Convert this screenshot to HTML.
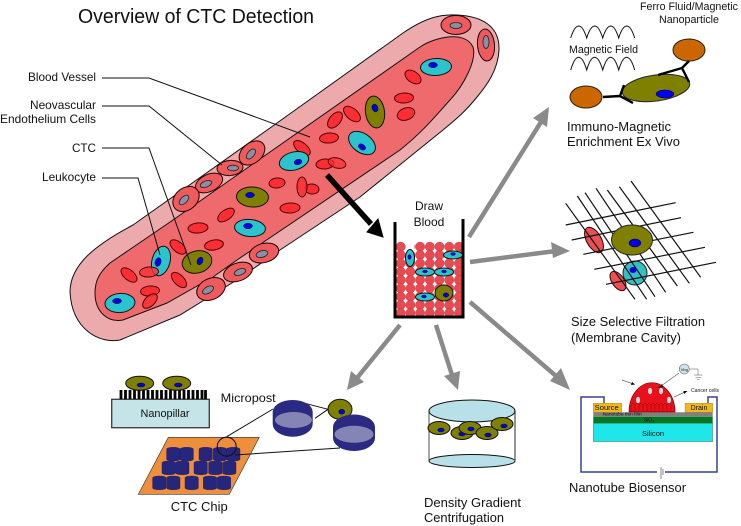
<!DOCTYPE html>
<html><head><meta charset="utf-8"><title>Overview of CTC Detection</title>
<style>
html,body{margin:0;padding:0;background:#fff;width:741px;height:526px;overflow:hidden}
svg{display:block;filter:blur(.3px)}
text{font-family:"Liberation Sans",sans-serif;fill:#111}
.r{fill:#fb2f33;stroke:#500;stroke-width:1}
.e{fill:#ef5a5c;stroke:#200;stroke-width:1}
.g{fill:#8c8ea6;stroke:#222;stroke-width:.8}
.t{fill:#2cc4cc;stroke:#111;stroke-width:1}
.o{fill:#808000;stroke:#111;stroke-width:1}
.n{fill:#0000d8;stroke:#002;stroke-width:.4}
.w{stroke:#8a8a8a;stroke-width:4.5;fill:none}
.h{fill:#8a8a8a}
.l{stroke:#111;stroke-width:1;fill:none}
</style></head><body>
<svg width="741" height="526" viewBox="0 0 741 526" xmlns="http://www.w3.org/2000/svg">
<defs>
<g id="bal"><circle cx="0" r="4.7"/><circle cx="9.7" r="4.7"/><circle cx="19.4" r="4.7"/><circle cx="29.1" r="4.7"/><circle cx="38.8" r="4.7"/><circle cx="48.5" r="4.7"/><circle cx="58.2" r="4.7"/></g>
<g id="cy"><path d="M-6.7,1.8 A6.7,1.8 0 0 1 6.7,1.8 V12 A6.7,1.8 0 0 1 -6.7,12 Z" fill="#26267c" stroke="#1c1c60" stroke-width=".4"/></g>
</defs>
<rect width="741" height="526" fill="#fff"/>

<text x="78" y="23" font-size="20" textLength="236" lengthAdjust="spacingAndGlyphs">Overview of CTC Detection</text>

<!-- vessel -->
<path d="M70,292 C70,265 95,245 133,225 L270,128 L403,33 C425,18 440,14 457,15 C480,16 500,25 499,50 C498,70 487,85 477,97 C465,112 455,120 443,130 L360,197 L280,250 L240,278 L180,315 L120,340 C100,344 72,330 70,292 Z" fill="#edaaac" stroke="#111" stroke-width="1"/>
<path d="M95,293 C95,280 100,272 110,263 L173,220 L270,152 L420,47 C435,37 465,30 473,47 C477,60 464,85 450,100 C438,113 425,130 400,150 L237,260 L213,277 L167,303 L123,320 C108,323 95,312 95,293 Z" fill="#ee6a6c" stroke="#111" stroke-width="1"/>

<!-- endothelial -->
<ellipse class="e" cx="456" cy="25" rx="15" ry="9.5"/><ellipse class="g" cx="456" cy="25.5" rx="6" ry="3"/>
<ellipse class="e" cx="486" cy="45" rx="8.5" ry="16" transform="rotate(-5,486,45)"/><ellipse class="g" cx="486" cy="42" rx="3" ry="6.5"/>
<ellipse class="e" cx="252" cy="153" rx="14.5" ry="10" transform="rotate(-40,252,153)"/><ellipse class="g" cx="251" cy="154" rx="6" ry="3.3" transform="rotate(-50,251,154)"/>
<ellipse class="e" cx="230" cy="168" rx="13" ry="7.5" transform="rotate(-5,230,168)"/><ellipse class="g" cx="233" cy="168" rx="5.5" ry="2.8"/>
<ellipse class="e" cx="209" cy="183" rx="14.5" ry="8.5" transform="rotate(-25,209,183)"/><ellipse class="g" cx="206" cy="184" rx="6" ry="3" transform="rotate(-20,206,184)"/>
<ellipse class="e" cx="186" cy="199" rx="14.5" ry="11" transform="rotate(-40,186,199)"/><ellipse class="g" cx="184" cy="200" rx="6" ry="3.3" transform="rotate(-45,184,200)"/>
<ellipse class="e" cx="264" cy="253" rx="15" ry="9.5" transform="rotate(-15,264,253)"/><ellipse class="g" cx="262" cy="254" rx="6" ry="3.3" transform="rotate(-15,262,254)"/>
<ellipse class="e" cx="238" cy="272" rx="15" ry="9" transform="rotate(-20,238,272)"/><ellipse class="g" cx="240" cy="272" rx="6" ry="3" transform="rotate(-20,240,272)"/>
<ellipse class="e" cx="211" cy="289" rx="15" ry="10.5" transform="rotate(-25,211,289)"/><ellipse class="g" cx="208" cy="290" rx="6" ry="3.3" transform="rotate(-30,208,290)"/>

<!-- rbc -->
<ellipse class="r" cx="413" cy="77" rx="9" ry="5.5" transform="rotate(35,413,77)"/>
<ellipse class="r" cx="404" cy="98" rx="9.5" ry="5" transform="rotate(-3,404,98)"/>
<ellipse class="r" cx="406" cy="114" rx="9" ry="6" transform="rotate(-20,406,114)"/>
<ellipse class="r" cx="352" cy="114" rx="10" ry="5.5" transform="rotate(40,352,114)"/>
<ellipse class="r" cx="335" cy="120" rx="9.5" ry="5.5" transform="rotate(-50,335,120)"/>
<ellipse class="r" cx="329" cy="138" rx="9.5" ry="5" transform="rotate(-5,329,138)"/>
<ellipse class="r" cx="302" cy="148" rx="10" ry="5" transform="rotate(40,302,148)"/>
<ellipse class="r" cx="325" cy="164" rx="9" ry="5" transform="rotate(-5,325,164)"/>
<ellipse class="r" cx="337" cy="163" rx="9" ry="5" transform="rotate(15,337,163)" fill-opacity=".7"/>
<ellipse class="r" cx="312" cy="189" rx="7" ry="5" transform="rotate(5,312,189)"/>
<ellipse class="r" cx="302" cy="187" rx="5" ry="10" fill-opacity=".85"/>
<ellipse class="r" cx="277" cy="183" rx="8" ry="5" transform="rotate(-5,277,183)"/>
<ellipse class="r" cx="290" cy="208" rx="10" ry="5" transform="rotate(-3,290,208)"/>
<ellipse class="r" cx="226" cy="215" rx="9.5" ry="5" transform="rotate(-35,226,215)"/>
<ellipse class="r" cx="198" cy="228" rx="10" ry="5" transform="rotate(-5,198,228)"/>
<ellipse class="r" cx="214" cy="245" rx="9.5" ry="5" transform="rotate(-10,214,245)"/>
<ellipse class="r" cx="178" cy="247" rx="9.5" ry="5" transform="rotate(40,178,247)"/>
<ellipse class="r" cx="179" cy="280" rx="9.5" ry="5" transform="rotate(45,179,280)"/>
<ellipse class="r" cx="129" cy="275" rx="9.5" ry="5" transform="rotate(40,129,275)"/>
<ellipse class="r" cx="150" cy="291" rx="9.5" ry="5" transform="rotate(-5,150,291)"/>
<ellipse class="r" cx="150" cy="301" rx="9" ry="5" transform="rotate(-45,150,301)" fill-opacity=".85"/>

<!-- ctc & leukocyte -->
<ellipse class="t" cx="120" cy="303" rx="15" ry="9.5" transform="rotate(-5,120,303)"/><ellipse class="n" cx="117" cy="301" rx="4.5" ry="2.7"/>
<ellipse class="t" cx="161" cy="261" rx="9" ry="15" transform="rotate(15,161,261)"/><ellipse class="n" cx="158" cy="262" rx="3" ry="4.5" transform="rotate(15,158,262)"/>
<ellipse class="t" cx="250" cy="228" rx="15.5" ry="8.5" transform="rotate(5,250,228)"/><ellipse class="n" cx="248" cy="226" rx="4.5" ry="2.8"/>
<ellipse class="t" cx="436" cy="67" rx="15.5" ry="8.5" transform="rotate(-3,436,67)"/><ellipse class="n" cx="433" cy="65" rx="4.5" ry="2.7"/>
<ellipse class="t" cx="362" cy="143" rx="15" ry="9.5" transform="rotate(35,362,143)"/><ellipse class="n" cx="362" cy="147" rx="4" ry="2.7" transform="rotate(35,362,147)"/>
<ellipse class="t" cx="294" cy="161" rx="15" ry="9" transform="rotate(-15,294,161)"/><ellipse class="n" cx="298" cy="162" rx="4" ry="2.7" transform="rotate(-15,298,162)"/>
<ellipse class="r" cx="149" cy="272" rx="9.5" ry="5" transform="rotate(-5,149,272)" fill-opacity=".75"/>
<ellipse class="o" cx="197" cy="262" rx="15" ry="11" transform="rotate(-15,197,262)"/><ellipse class="n" cx="200" cy="261" rx="2.8" ry="4" transform="rotate(25,200,261)"/>
<ellipse class="o" cx="252.5" cy="197" rx="16" ry="10" transform="rotate(3,252,197)"/><ellipse class="n" cx="250" cy="195" rx="4.5" ry="2.7"/>
<ellipse class="o" cx="375" cy="112" rx="9.5" ry="16" transform="rotate(-8,375,112)"/><ellipse class="n" cx="375" cy="108" rx="3" ry="4" transform="rotate(-20,375,108)"/>

<!-- left labels -->
<text x="96" y="81" font-size="12" text-anchor="end" fill="#222" textLength="68" lengthAdjust="spacingAndGlyphs">Blood Vessel</text>
<text x="96" y="109" font-size="12" text-anchor="end" textLength="66" lengthAdjust="spacingAndGlyphs">Neovascular</text>
<text x="96" y="123" font-size="12" text-anchor="end" textLength="96" lengthAdjust="spacingAndGlyphs">Endothelium Cells</text>
<text x="96" y="152" font-size="12" text-anchor="end" textLength="24" lengthAdjust="spacingAndGlyphs">CTC</text>
<text x="96" y="181" font-size="12" text-anchor="end" textLength="54" lengthAdjust="spacingAndGlyphs">Leukocyte</text>
<path class="l" d="M102,78 H149 L310,137"/>
<path class="l" d="M102,106 H149 L222,165"/>
<path class="l" d="M102,148 H149 L191,265"/>
<path class="l" d="M102,178 H138 L160,255"/>

<!-- black arrow -->
<path d="M327,175 L371,224" stroke="#000" stroke-width="5.5" fill="none"/>
<path d="M383,237 L367,232 L378,219 Z" fill="#000" stroke="#000"/>

<!-- gray arrows -->
<path class="w" d="M469,237 L541,122"/><path class="h" d="M549,107 L547,127 L533,118 Z"/>
<path class="w" d="M470,262 L556,251"/><path class="h" d="M570,251 L553,258 L551,242 Z"/>
<path class="w" d="M470,302 L556,376"/><path class="h" d="M570,390 L550,381 L561,368 Z"/>
<path class="w" d="M400,325 L357,378"/><path class="h" d="M347,390 L351,371 L364,382 Z"/>
<path class="w" d="M436,325 L452,375"/><path class="h" d="M458,390 L444,376 L460,371 Z"/>

<!-- beaker -->
<g fill="#e84a52" stroke="#b02a30" stroke-width=".3">
<use href="#bal" x="400.7" y="246.7"/><use href="#bal" x="400.7" y="255"/><use href="#bal" x="400.7" y="263.3"/><use href="#bal" x="400.7" y="271.7"/><use href="#bal" x="400.7" y="280"/><use href="#bal" x="400.7" y="288.3"/><use href="#bal" x="400.7" y="296.7"/><use href="#bal" x="400.7" y="305"/><use href="#bal" x="400.7" y="313"/>
</g>
<rect x="405.5" y="241" width="9" height="11" fill="#fff"/>
<path d="M395,222 V317 H463 V219" fill="none" stroke="#000" stroke-width="3"/>
<ellipse class="t" cx="410" cy="258" rx="4.5" ry="8.5" stroke-width=".7"/><ellipse class="n" cx="409.5" cy="257" rx="1.6" ry="2.4"/>
<ellipse class="t" cx="453" cy="255" rx="9.5" ry="4" stroke-width=".7"/><ellipse class="n" cx="453" cy="254" rx="2.4" ry="1.4"/>
<ellipse class="t" cx="425" cy="272" rx="9.5" ry="4" stroke-width=".7"/><ellipse class="n" cx="425" cy="271.5" rx="2.4" ry="1.4"/>
<ellipse class="t" cx="444" cy="272" rx="9.5" ry="4" stroke-width=".7"/><ellipse class="n" cx="444" cy="271.5" rx="2.4" ry="1.4"/>
<ellipse class="t" cx="425" cy="297" rx="9.5" ry="4" stroke-width=".7"/><ellipse class="n" cx="424" cy="296.5" rx="2.4" ry="1.4"/>
<ellipse class="o" cx="444" cy="293" rx="9" ry="8"/><ellipse class="n" cx="446" cy="295" rx="2.8" ry="2.2"/>
<text x="429" y="210" font-size="12" text-anchor="middle">Draw</text>
<text x="429" y="226" font-size="12" text-anchor="middle">Blood</text>

<!-- magnetic -->
<text x="689" y="10" font-size="11" text-anchor="middle" textLength="98" lengthAdjust="spacingAndGlyphs">Ferro Fluid/Magnetic</text>
<text x="689" y="23" font-size="11" text-anchor="middle" textLength="60" lengthAdjust="spacingAndGlyphs">Nanoparticle</text>
<text x="569" y="53" font-size="11" textLength="69" lengthAdjust="spacingAndGlyphs">Magnetic Field</text>
<path class="l" d="M570.7,38 c5,-16 11,-16 16,0 c5,-16 11,-16 16,0 c5,-16 11,-16 16,0 c5,-16 11,-16 16,0"/>
<path class="l" d="M570.7,70 c5,-17 11,-17 16,0 c5,-17 11,-17 16,0 c5,-17 11,-17 16,0 c5,-17 11,-17 16,0"/>
<ellipse cx="656" cy="88" rx="34" ry="13" transform="rotate(-8,656,88)" fill="#808000" stroke="#222"/>
<ellipse cx="665" cy="94" rx="9" ry="4" fill="#0000f0" stroke="#002" stroke-width=".5"/>
<ellipse cx="689" cy="50" rx="16" ry="11" fill="#cc6600" stroke="#221"/>
<ellipse cx="586" cy="97" rx="16" ry="11" fill="#cc6600" stroke="#221"/>
<path d="M603,97 L620,96 M624,85 L620,96 L633,103 M689,61 L682,68 M658,75 L682,68 L689,82" stroke="#000" stroke-width="2.4" fill="none"/>
<text x="567" y="131" font-size="13" textLength="104" lengthAdjust="spacingAndGlyphs">Immuno-Magnetic</text>
<text x="567" y="146" font-size="13" textLength="113" lengthAdjust="spacingAndGlyphs">Enrichment Ex Vivo</text>

<!-- filter -->
<ellipse cx="594" cy="240" rx="14" ry="7.3" transform="rotate(60,594,240)" fill="#e85054" stroke="#300"/>
<ellipse cx="618" cy="281" rx="11" ry="6" transform="rotate(55,618,281)" fill="#e85054" stroke="#300"/>
<circle cx="635" cy="273" r="12" fill="#33bfc4" stroke="#222"/>
<ellipse cx="633" cy="270" rx="3.5" ry="3" fill="#0000d8"/>
<g transform="translate(550,170) scale(.33333)" stroke="#111" stroke-width="3.6" fill="none">
<path d="M47,100L255,388M82,78L290,388M105,68L315,380M138,55L347,367M172,60L382,348M208,50L418,340M243,33L452,322"/>
<path d="M47,165L377,98M65,210L393,143M100,253L430,187M133,298L465,232M168,343L498,277"/>
</g>
<ellipse cx="632" cy="240" rx="20.5" ry="15" fill="#808000" stroke="#222"/>
<ellipse cx="635" cy="243" rx="6" ry="4" fill="#0000e0" stroke="#002" stroke-width=".5"/>
<text x="571" y="326" font-size="13" textLength="134" lengthAdjust="spacingAndGlyphs">Size Selective Filtration</text>
<text x="571" y="342" font-size="13" textLength="110" lengthAdjust="spacingAndGlyphs">(Membrane Cavity)</text>

<!-- biosensor -->
<path d="M604,403 V397 H581 V472 H717 V397 H708 V403" fill="none" stroke="#334499" stroke-width="1.5"/>
<rect x="657" y="468" width="8" height="8" fill="#fff"/>
<path d="M661,467 V479 M663,469 V475" stroke="#888" stroke-width="1" fill="none"/>
<rect x="593.3" y="423.3" width="119.4" height="18.4" fill="#1fe6e8" stroke="#888" stroke-width=".6"/>
<rect x="593.3" y="416.7" width="119.4" height="6.6" fill="#007a20"/>
<rect x="593.3" y="412.3" width="119.4" height="4.4" fill="#808080"/>
<rect x="593.3" y="403.3" width="28.4" height="9" fill="#f0b820" stroke="#a08020" stroke-width=".4"/>
<rect x="685" y="403.3" width="27.7" height="9" fill="#f0b820" stroke="#a08020" stroke-width=".4"/>
<path d="M629,412 C629,395 640,382.7 652,382.7 C664,382.7 675,395 675,412 Z" fill="#e8101a" stroke="#800" stroke-width=".7"/>
<path d="M631,412V405M635,412V405M639,412V405M643,412V405M647,412V405M651,412V405M655,412V405M659,412V405M663,412V405M667,412V405M671,412V405M631,405Q633,402 635,405Q637,402 639,405Q641,402 643,405Q645,402 647,405Q649,402 651,405Q653,402 655,405Q657,402 659,405Q661,402 663,405Q665,402 667,405Q669,402 671,405" stroke="#900" stroke-width=".5" fill="none"/>
<g fill="#ddd"><ellipse cx="650" cy="391" rx="2" ry="3.3"/><ellipse cx="661" cy="391" rx="2" ry="3.3"/><ellipse cx="638" cy="400" rx="2" ry="3.3"/><ellipse cx="669" cy="400" rx="2" ry="3.3"/></g>
<text x="606.7" y="410" font-size="7" text-anchor="middle" textLength="24" lengthAdjust="spacingAndGlyphs">Source</text>
<text x="699" y="410" font-size="7" text-anchor="middle">Drain</text>
<text x="602.7" y="415.6" font-size="4.5" fill="#333" textLength="39" lengthAdjust="spacingAndGlyphs">Nanotube thin film</text>
<text x="649" y="421.5" font-size="5" text-anchor="middle">SiO<tspan font-size="3.5" dy="1">2</tspan></text>
<text x="653" y="436" font-size="7.5" text-anchor="middle" fill="#225">Silicon</text>
<path d="M679,373 L661,386" stroke="#555" stroke-width=".6" fill="none"/><path d="M658,388 L662,384 L663,387 Z" fill="#000"/>
<circle cx="684.3" cy="369" r="5" fill="#cfe2e8" stroke="#668" stroke-width=".6"/>
<text x="684.3" y="371" font-size="4" text-anchor="middle">Vbg</text>
<path d="M689,369 H698 V375 M694,375 H702.5 M695.5,377.3 H701 M697,379.3 H699.5" stroke="#555" stroke-width=".5" fill="none"/>
<path d="M622,380 L632,383.5 M674,397 L685,392" stroke="#333" stroke-width=".6" fill="none"/>
<path d="M635,384.5 L631,385 L632,382 Z M687.5,391 L684,394 L683.5,391 Z" fill="#000"/>
<text x="691" y="392" font-size="5" fill="#444" textLength="28" lengthAdjust="spacingAndGlyphs">Cancer cells</text>
<text x="569" y="492" font-size="13" textLength="117" lengthAdjust="spacingAndGlyphs">Nanotube Biosensor</text>

<!-- density -->
<ellipse cx="472" cy="461" rx="43" ry="6.5" fill="#b8e0e8" stroke="#111"/>
<path d="M429,411 V461" stroke="#222" stroke-width=".8"/><path d="M515,411 V461" stroke="#666" stroke-width="1.4"/>
<ellipse cx="472" cy="411" rx="43" ry="11" fill="#b8e0e8" stroke="#111"/>
<ellipse class="o" cx="439" cy="428" rx="11" ry="6.5"/><ellipse class="n" cx="441" cy="430" rx="3.3" ry="2"/>
<ellipse class="o" cx="462" cy="433" rx="11" ry="6.5"/><ellipse class="n" cx="462" cy="434" rx="3.3" ry="2"/>
<ellipse class="o" cx="470" cy="428" rx="11" ry="6.5"/><ellipse class="n" cx="471" cy="429" rx="3.3" ry="2"/>
<ellipse class="o" cx="487" cy="433" rx="11" ry="6.5"/><ellipse class="n" cx="488" cy="435" rx="3.3" ry="2"/>
<ellipse class="o" cx="502" cy="424" rx="11" ry="6.5"/><ellipse class="n" cx="504" cy="426" rx="3.3" ry="2"/>
<text x="424" y="507" font-size="13" textLength="97" lengthAdjust="spacingAndGlyphs">Density Gradient</text>
<text x="424" y="522" font-size="13" textLength="80" lengthAdjust="spacingAndGlyphs">Centrifugation</text>

<!-- nanopillar -->
<rect x="111.7" y="399.3" width="97.6" height="28.4" fill="#c4e4e8" stroke="#444" stroke-width="1.4"/>
<path d="M121,390V399M125.5,390V399M130,390V399M134.5,390V399M139,390V399M143.5,390V399M148,390V399M152.5,390V399M157,390V399M161.5,390V399M166,390V399M170.5,390V399M175,390V399M179.5,390V399M184,390V399M188.5,390V399M193,390V399M197.5,390V399M202,390V399M205.5,390V399" stroke="#000" stroke-width="2.8"/>
<ellipse class="o" cx="139.7" cy="383.3" rx="14" ry="7"/><ellipse class="n" cx="141" cy="385" rx="4" ry="2"/>
<ellipse class="o" cx="176.7" cy="383.3" rx="14" ry="7"/><ellipse class="n" cx="178.3" cy="385" rx="4" ry="2"/>
<text x="165" y="417" font-size="11" text-anchor="middle" fill="#223" textLength="49" lengthAdjust="spacingAndGlyphs">Nanopillar</text>
<text x="220.7" y="402" font-size="12" textLength="55" lengthAdjust="spacingAndGlyphs">Micropost</text>

<!-- chip -->
<path d="M168.3,437.3 H259.3 L229.3,494.3 H138.3 Z" fill="#ee8f3c" stroke="#333" stroke-width=".6"/>
<use href="#cy" x="173.3" y="447.3"/><use href="#cy" x="186.7" y="447.3"/><use href="#cy" x="205.7" y="447.3"/><use href="#cy" x="220" y="447.3"/><use href="#cy" x="233.3" y="447.3"/>
<use href="#cy" x="168.7" y="461"/><use href="#cy" x="182.3" y="461"/><use href="#cy" x="200.7" y="461"/><use href="#cy" x="215.3" y="461"/><use href="#cy" x="229.3" y="461"/>
<use href="#cy" x="159.3" y="476"/><use href="#cy" x="173.3" y="476"/><use href="#cy" x="191.7" y="476"/><use href="#cy" x="210" y="476"/><use href="#cy" x="224" y="476"/>
<circle cx="226.7" cy="446.7" r="9.5" fill="none" stroke="#111" stroke-width="1.1"/>
<path d="M226.7,436.7 L273,409 M235,455 L340,448" stroke="#111" stroke-width="1" fill="none"/>
<path d="M305,403.3 L328,409.3 L315,418.3" stroke="#111" stroke-width="1" fill="none"/>
<ellipse class="o" cx="340" cy="409.3" rx="12" ry="10"/><ellipse class="n" cx="341.7" cy="411.7" rx="3" ry="2.5"/>
<path d="M272.7,412 A20,12 0 0 1 312.7,412 V424 A20,12.7 0 0 1 272.7,424 Z" fill="#2a2a82"/>
<ellipse cx="293.5" cy="420" rx="18.5" ry="8" fill="#8585b5"/>
<path d="M333,427 A21,12.5 0 0 1 375,427 V438 A21,13 0 0 1 333,438 Z" fill="#2a2a82"/>
<ellipse cx="354" cy="434.3" rx="19.5" ry="8.5" fill="#8585b5"/>
<text x="170.7" y="511" font-size="13" textLength="57" lengthAdjust="spacingAndGlyphs">CTC Chip</text>
</svg>
</body></html>
